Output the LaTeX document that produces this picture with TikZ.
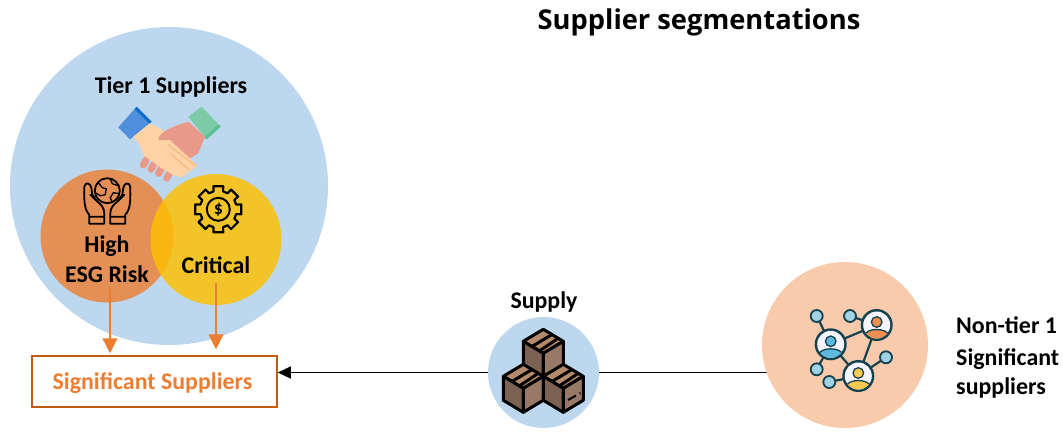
\documentclass[tikz,border=0pt]{standalone}
\usepackage{fontspec}
\setmainfont{Carlito}
\newfontfamily\titlefont{Open Sans}
\usetikzlibrary{arrows.meta, backgrounds}
\definecolor{paleBlue}{HTML}{BDD7EE}
\definecolor{riskOrange}{HTML}{ED7D31}
\definecolor{critYellow}{HTML}{FFC000}
\definecolor{boxEdge}{HTML}{C55A11}
\definecolor{peach}{HTML}{F7CBAC}
\definecolor{netDark}{HTML}{16414F}
\definecolor{nodeTeal}{HTML}{A0D2E3}
\definecolor{headBlue}{HTML}{5DB9DF}
\definecolor{headOrange}{HTML}{EE8F4D}
\definecolor{headYellow}{HTML}{FBC94F}
\definecolor{cartonTop}{HTML}{B58A6C}
\definecolor{cartonLeft}{HTML}{7A6152}
\definecolor{cartonRight}{HTML}{987866}
\definecolor{skinLight}{HTML}{FFD3A6}
\definecolor{skinLine}{HTML}{F8BC85}
\definecolor{skinDark}{HTML}{E8998A}
\definecolor{cuffBlue}{HTML}{4F8FDB}
\definecolor{cuffBlueDark}{HTML}{0B6FC9}
\definecolor{cuffGreen}{HTML}{7CCBA6}
\definecolor{cuffGreenDark}{HTML}{5FBE96}
\tikzset{
    blob/.style={circle, inner sep=0pt, minimum size=#1}, % filled circles, size in px
    lbl/.style={font=\fontsize{24}{28}\selectfont\bfseries, inner sep=0pt, text=black},
    sideLbl/.style={lbl, anchor=west},
    feed/.style={riskOrange, line width=1.2pt, -{Triangle[width=15bp,length=15bp]}},
    flow/.style={black, line width=1pt},
}
% one carton: #1 is the inner corner
\newcommand{\crate}[1]{
    \begin{scope}[shift={#1}, line width=3bp, line join=round, draw=black]
        \filldraw[fill=cartonTop] (0,0) -- (-20,-12) -- (0,-24) -- (20,-12) -- cycle;
        \filldraw[fill=cartonLeft] (0,0) -- (-20,-12) -- (-20,12) -- (0,24) -- cycle;
        \filldraw[fill=cartonRight] (0,0) -- (20,-12) -- (20,12) -- (0,24) -- cycle;
        \draw (-11,-7) -- (9,-19) (-3,-3) -- (15,-15);
    \end{scope}
}
% one hand round the globe, drawn as the left one
\newcommand{\palm}{
    \draw[line width=1.8bp, line join=round, line cap=round]
        (-18,33) -- (-3,33) -- (-3,23) .. controls (-3,17) and (-6,14) .. (-11,10)
        -- (-17,4) (-18,33) -- (-18,24) .. controls (-24,18) and (-23,6) .. (-23,-4)
        .. controls (-22,-9) and (-17,-8) .. (-16,-3) -- (-15,4) -- (-10,11) (-18,26) -- (-3,26);
}
% one person of the network
\newcommand{\person}[2]{
    \begin{scope}[shift={#1}]
        \fill[netDark] (0,0) circle (16);
        \fill[blue!4] (0,0) circle (13.5);
        \begin{scope}
            \clip (0,0) circle (13.5);
            \filldraw[fill=#2, draw=netDark, line width=1.3bp] (0,-3) circle (5.3);
            \filldraw[fill=#2, draw=netDark, line width=1.3bp] (0,10) ellipse (11.5 and 5.5);
        \end{scope}
    \end{scope}
}
\begin{document}
\begin{tikzpicture}[x=1bp, y=-1bp]
    \useasboundingbox (0,0) rectangle (1063,432);
    \node[blob=318bp, fill=paleBlue] (tierOne) at (169,186) {};
    \node[blob=133bp, fill=riskOrange, fill opacity=.8] (esgRisk) at (107,236) {};
    \node[blob=131bp, fill=critYellow, fill opacity=.82] (critical) at (216,239.5) {};
    \node[blob=111bp, fill=paleBlue] (supply) at (543.5,372.5) {};
    \node[blob=166bp, fill=peach] (nonTier) at (845,345) {};
    \node[draw=boxEdge, line width=1.5bp, minimum width=245bp, minimum height=51bp, inner sep=0pt] (sigBox) at (154.5,381.5) {};

    \node[font=\titlefont\fontsize{27.4}{32}\selectfont\bfseries, inner sep=0pt] (title) at (699,22) {Supplier segmentations};
    \node[lbl] (tierLbl) at (171,87) {Tier 1 Suppliers};
    \node[lbl] (highLbl) at (107,246) {High};
    \node[lbl] (esgLbl) at (107,274) {ESG Risk};
    \node[lbl] (critLbl) at (216,265) {Critical};
    \node[lbl, text=riskOrange] (sigLbl) at (152.5,383) {Significant Suppliers};
    \node[lbl] (supplyLbl) at (544,302) {Supply};
    \node[sideLbl] (nonLbl) at (956,325) {Non-tier 1};
    \node[sideLbl] (sigSide) at (956,359) {Significant};
    \node[sideLbl] (supSide) at (956,388) {suppliers};

    \coordinate (esgOut) at (110,287);
    \coordinate (critOut) at (216,283);
    \draw[feed, shorten >=2bp] (esgOut) -- (esgOut |- sigBox.north);
    \draw[feed, shorten >=6bp] (critOut) -- (critOut |- sigBox.north);

    \begin{pgfonlayer}{background}
        \draw[flow] (nonTier.center |- supply) -- (supply);
    \end{pgfonlayer}
    \draw[flow, -{Triangle[width=12bp,length=13bp]}] (supply.west) -- (supply.west -| sigBox.east);

    % handshake
    \begin{scope}[shift={(90,90)}, scale=1/3]
        \fill[cuffBlue] (85,112) -- (140,50) -- (185,95) -- (120,148) -- cycle;
        \fill[cuffBlueDark] (140,50) -- (185,95) -- (178,101) -- (134,57) -- cycle;
        \fill[cuffGreen] (295,80) -- (335,50) -- (392,110) -- (350,148) -- cycle;
        \fill[cuffGreenDark] (392,110) -- (350,148) -- (343,142) -- (385,103) -- cycle;
        \foreach \fx/\fy in {160/225, 183/238, 206/250, 230/265}
            \draw[skinDark, line width=7bp, line cap=round] (\fx,\fy) -- (\fx+8,\fy-15);
        \fill[skinLight] (130,140) -- (180,100) -- (215,118) -- (250,150) -- (322,228) -- (305,240)
            -- (275,262) -- (250,255) -- (215,235) -- (160,195) -- (150,165) -- cycle;
        \fill[skinDark] (205,150) .. controls (205,135) and (225,115) .. (295,95) -- (345,140)
            -- (325,190) -- (300,205) -- (240,150) -- cycle;
        \draw[skinLine, line width=1.5bp, line cap=round] (235,165) -- (318,228) (240,190) -- (298,240);
    \end{scope}

    % globe in hands
    \begin{scope}[shift={(107.3,190.7)}]
        \draw[line width=1.8bp] (0,0) circle (12.5);
        \draw[line width=1.3bp, line join=round] (-9,-8) -- (-5,-3) -- (-1,-2) -- (-2,4) -- (-7,5) -- (-12,2)
            (3,-12) -- (5,-7) -- (11,-5) (12,3) -- (6,2) -- (3,7) -- (5,12);
        \palm
        \begin{scope}[xscale=-1]
            \palm
        \end{scope}
    \end{scope}

    % gear
    \begin{scope}[shift={(218.3,209.3)}]
        \draw[line width=2.2bp, line join=round] (-12:23)
            \foreach \ang in {0,45,...,315} {
                -- (\ang-12:23.5) -- (\ang+12:23.5) -- (\ang+15:18.5) -- (\ang+30:18.5)
            } -- cycle;
        \draw[line width=2bp] (0,0) circle (11.5);
        \node[font=\fontsize{18}{18}\selectfont\bfseries, inner sep=0pt] (gearSign) at (0,0) {\$};
    \end{scope}

    % cartons
    \crate{(543.3,353.3)}
    \crate{(523.3,388.3)}
    \crate{(563.3,388.3)}
    \draw[line width=2bp] (568,400) -- (576,395.5) (579.5,393.5) -- (580.5,393);

    % network
    \draw[netDark, line width=2.2bp]
        (830.7,344.3) -- (876.7,325) (830.7,344.3) -- (858.3,376) (876.7,325) -- (858.3,376)
        (830.7,344.3) -- (816.7,316) (876.7,325) -- (850,316) (858.3,376) -- (886,357.3)
        (830.7,344.3) -- (816.7,369.3) (858.3,376) -- (829.3,382);
    \foreach \nx/\ny in {816.7/316, 850/316, 886/357.3, 816.7/369.3, 829.3/382}
        \filldraw[fill=nodeTeal, draw=netDark, line width=1.8bp] (\nx,\ny) circle (6);
    \person{(830.7,344.3)}{headBlue}
    \person{(876.7,325)}{headOrange}
    \person{(858.3,376)}{headYellow}
\end{tikzpicture}
\end{document}
